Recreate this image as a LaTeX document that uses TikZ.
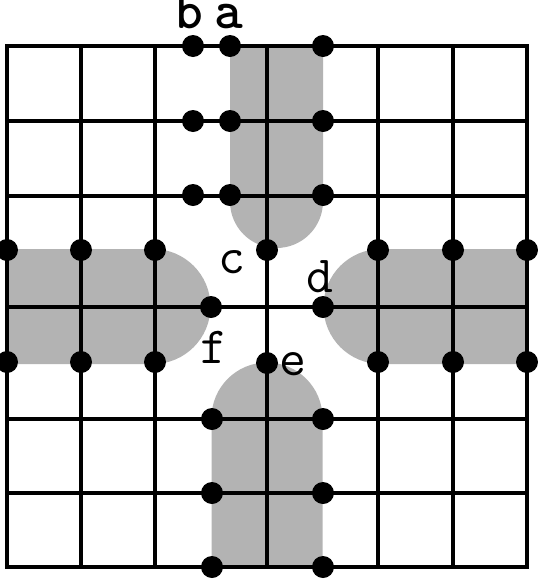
\documentclass[tikz,border=0pt]{standalone}
\definecolor{blobgray}{RGB}{179,179,179}
\tikzset{
  gridline/.style={line width=3.4pt, line cap=rect},
  blob/.style={fill=blobgray, draw=none},
  dot/.style={circle, fill=black, inner sep=0pt, minimum size=22pt},
  lbl/.style={inner sep=0pt, anchor=base, scale=2.1, font=\Huge\ttfamily},
  blbl/.style={inner sep=0pt, anchor=base, scale=2.2, font=\Huge\ttfamily\bfseries}
}
\begin{document}
\begin{tikzpicture}[x=1pt,y=-1pt]
\useasboundingbox (0,0) rectangle (538,582);
\clip (0,0) rectangle (538,582);
% gray regions
\path[blob] (230,46) -- (230,201.5) arc[start angle=180, end angle=0, radius=46.5] -- (323,46) -- cycle;
\path[blob] (7,249) -- (153,249) arc[start angle=-90, end angle=90, radius=57.5] -- (7,364) -- cycle;
\path[blob] (527,249) -- (381,249) arc[start angle=-90, end angle=-270, radius=57.5] -- (527,364) -- cycle;
\path[blob] (211.5,567) -- (211.5,418) arc[start angle=180, end angle=360, radius=55.5] -- (322.5,567) -- cycle;
% grid
\foreach \x in {7,81,155,267,378,453,527} \draw[gridline] (\x,46) -- (\x,567);
\foreach \y in {46,121,196,307,419,493,567} \draw[gridline] (7,\y) -- (527,\y);
% dots top
\node[dot] (b1) at (193,46) {};
\node[dot] (a1) at (230,46) {};
\node[dot] (t1) at (323,46) {};
\node[dot] (b2) at (193,121) {};
\node[dot] (a2) at (230,121) {};
\node[dot] (t2) at (323,121) {};
\node[dot] (b3) at (193,195) {};
\node[dot] (a3) at (230,195) {};
\node[dot] (t3) at (323,195) {};
\node[dot] (c) at (267,250) {};
% dots left
\node[dot] (l1) at (7,250) {};
\node[dot] (l2) at (81,250) {};
\node[dot] (l3) at (155,250) {};
\node[dot] (l4) at (7,362) {};
\node[dot] (l5) at (81,362) {};
\node[dot] (l6) at (155,362) {};
\node[dot] (f) at (211,307) {};
% dots right
\node[dot] (r1) at (378,250) {};
\node[dot] (r2) at (453,250) {};
\node[dot] (r3) at (527,250) {};
\node[dot] (r4) at (378,362) {};
\node[dot] (r5) at (453,362) {};
\node[dot] (r6) at (527,362) {};
\node[dot] (d) at (323,307) {};
% dots bottom
\node[dot] (e) at (267,363) {};
\node[dot] (u1) at (212,419) {};
\node[dot] (u2) at (323,419) {};
\node[dot] (u3) at (212,493) {};
\node[dot] (u4) at (323,493) {};
\node[dot] (u5) at (212,567) {};
\node[dot] (u6) at (323,567) {};
% labels
\node[blbl] (lb) at (189,28) {b};
\node[blbl] (la) at (229,28) {a};
\node[lbl] (lc) at (232,273) {c};
\node[lbl] (ld) at (320,292) {d};
\node[lbl] (lf) at (214,363) {f};
\node[lbl] (le) at (293,375) {e};
\end{tikzpicture}
\end{document}
